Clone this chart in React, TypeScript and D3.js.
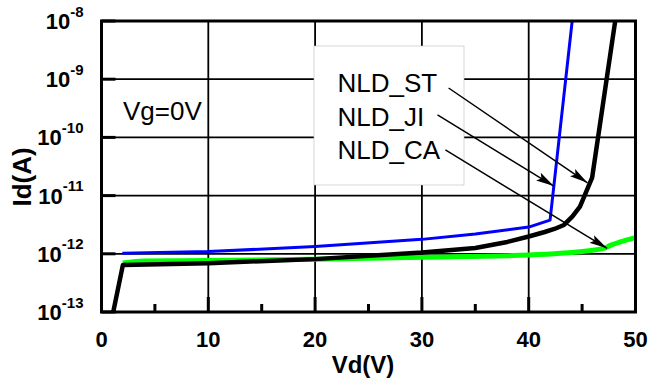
import React from "react";
import * as d3 from "d3";

// ---- data ----
const vdBlue = [1.95, 10, 20, 30, 35, 40, 42, 44.07];
const idBlue = [1.02e-12, 1.09e-12, 1.33e-12, 1.77e-12, 2.19e-12, 2.88e-12, 3.8e-12, 1e-8];

const vdBlack = [1.1, 2, 10, 20, 30, 35, 38, 40, 41.5, 42.4, 43.3, 44.1, 44.8, 45.94, 48.1];
const idBlack = [1e-13, 6.4e-13, 6.9e-13, 8.1e-13, 1.05e-12, 1.26e-12, 1.6e-12, 1.98e-12, 2.37e-12, 2.67e-12, 3.13e-12, 4.38e-12, 6.45e-12, 2.04e-11, 1e-8];

const vdGreen = [2, 4, 10, 20, 30, 40, 43, 47, 47.7, 50];
const idGreen = [6.95e-13, 7.5e-13, 7.65e-13, 8.1e-13, 8.7e-13, 9.5e-13, 1.02e-12, 1.24e-12, 1.41e-12, 1.9e-12];

const xTicks = [0, 10, 20, 30, 40, 50];
const xMinorTicks = [5, 15, 25, 35, 45];
const yExponents = [-8, -9, -10, -11, -12, -13];

const legendNames = ["NLD_ST", "NLD_JI", "NLD_CA"];
// arrow start and end (data space) for each legend entry
const arrowStartVd = [32.5, 31.46, 32.2];
const arrowStartId = [7.06e-10, 2.43e-10, 6.08e-11];
const arrowEndVd = [45.5, 42.35, 47.34];
const arrowEndId = [1.66e-11, 1.46e-11, 1.24e-12];

const W = 649;
const H = 383;
const FONT = "'Liberation Sans', Arial, Helvetica, sans-serif";

export default function App() {
  const left = 101.5, right = 635.5, top = 21, bottom = 312;
  const x = d3.scaleLinear().domain([0, 50]).range([left, right]);
  const y = d3.scaleLog().domain([1e-13, 1e-8]).range([bottom, top]);

  const line = d3
    .line<[number, number]>()
    .x((d) => x(d[0]))
    .y((d) => y(d[1]));
  const smooth = d3
    .line<[number, number]>()
    .x((d) => x(d[0]))
    .y((d) => y(d[1]))
    .curve(d3.curveMonotoneX);

  const zip = (a: number[], b: number[]) => a.map((v, i) => [v, b[i]] as [number, number]);

  const gridX = [10, 20, 30, 40];

  // legend box
  const box = { x0: 314, y0: 46, x1: 464, y1: 185 };

  return (
    <svg
      width={W}
      height={H}
      style={{ position: "absolute", left: 0, top: 0, background: "#fff" }}
      fontFamily={FONT}
    >
      <defs>
        <clipPath id="plot">
          <rect x={left} y={top} width={right - left} height={bottom - top} />
        </clipPath>
        <marker
          id="arrow"
          markerUnits="userSpaceOnUse"
          markerWidth={24}
          markerHeight={14}
          refX={18}
          refY={6}
          orient="auto"
          viewBox="0 0 24 12"
        >
          <path d="M0,1.5 L18,6 L0,10.5 L3.5,6 Z" fill="#000" />
        </marker>
      </defs>
      <rect x={0} y={0} width={W} height={H} fill="#fff" />

      {/* grid */}
      {gridX.map((v) => (
        <line key={"gx" + v} x1={x(v)} x2={x(v)} y1={top} y2={bottom} stroke="#000" strokeWidth={1.8} />
      ))}
      {yExponents.map((e) => (
        <line
          key={"gy" + e}
          x1={left}
          x2={right}
          y1={y(Math.pow(10, e))}
          y2={y(Math.pow(10, e))}
          stroke="#000"
          strokeWidth={1.8}
        />
      ))}

      {/* legend box */}
      <rect
        x={box.x0}
        y={box.y0}
        width={box.x1 - box.x0}
        height={box.y1 - box.y0}
        fill="#fff"
        stroke="#bbb"
        strokeWidth={0.6}
      />

      {/* ticks */}
      {xTicks.map((v) => (
        <line key={"xt" + v} x1={x(v)} x2={x(v)} y1={bottom} y2={bottom - 15} stroke="#000" strokeWidth={3} />
      ))}
      {xMinorTicks.map((v) => (
        <line key={"xm" + v} x1={x(v)} x2={x(v)} y1={bottom} y2={bottom - 8} stroke="#000" strokeWidth={3} />
      ))}
      {yExponents.map((e) => (
        <line
          key={"yt" + e}
          x1={left}
          x2={left + 14}
          y1={y(Math.pow(10, e))}
          y2={y(Math.pow(10, e))}
          stroke="#000"
          strokeWidth={3}
        />
      ))}

      {/* curves */}
      <g clipPath="url(#plot)" fill="none" strokeLinejoin="round">
        <path d={smooth(zip(vdGreen, idGreen)) || ""} stroke="#00ff00" strokeWidth={5} />
        <path d={line(zip(vdBlue, idBlue)) || ""} stroke="#0000ff" strokeWidth={3} />
        <path d={line(zip(vdBlack, idBlack)) || ""} stroke="#000" strokeWidth={4.5} />
      </g>

      {/* arrows */}
      {legendNames.map((n, i) => (
        <line
          key={"ar" + n}
          x1={x(arrowStartVd[i])}
          y1={y(arrowStartId[i])}
          x2={x(arrowEndVd[i])}
          y2={y(arrowEndId[i])}
          stroke="#000"
          strokeWidth={1.5}
          markerEnd="url(#arrow)"
        />
      ))}

      {/* frame */}
      <rect x={left} y={top} width={right - left} height={bottom - top} fill="none" stroke="#000" strokeWidth={3} />

      {/* legend text */}
      {legendNames.map((n, i) => (
        <text key={"lt" + n} x={337.5} y={92 + i * 33.7} fontSize={26} fill="#000">
          {n}
        </text>
      ))}
      <text x={123} y={120} fontSize={26} fill="#000">
        Vg=0V
      </text>

      {/* y tick labels */}
      {yExponents.map((e) => (
        <text
          key={"yl" + e}
          x={83.5}
          y={y(Math.pow(10, e)) + 8}
          textAnchor="end"
          fontSize={22}
          fontWeight="bold"
          fill="#000"
        >
          <tspan>10</tspan>
          <tspan dy={-12.3} fontSize={15}>
            {String(e)}
          </tspan>
        </text>
      ))}

      {/* x tick labels */}
      {xTicks.map((v) => (
        <text key={"xl" + v} x={x(v)} y={347} textAnchor="middle" fontSize={22} fontWeight="bold" fill="#000">
          {v}
        </text>
      ))}

      {/* axis titles */}
      <text x={363} y={373} textAnchor="middle" fontSize={24} fontWeight="bold" fill="#000">
        Vd(V)
      </text>
      <text
        transform={`translate(30.5,177) rotate(-90)`}
        textAnchor="middle"
        fontSize={26}
        fontWeight="bold"
        fill="#000"
      >
        Id(A)
      </text>
    </svg>
  );
}
